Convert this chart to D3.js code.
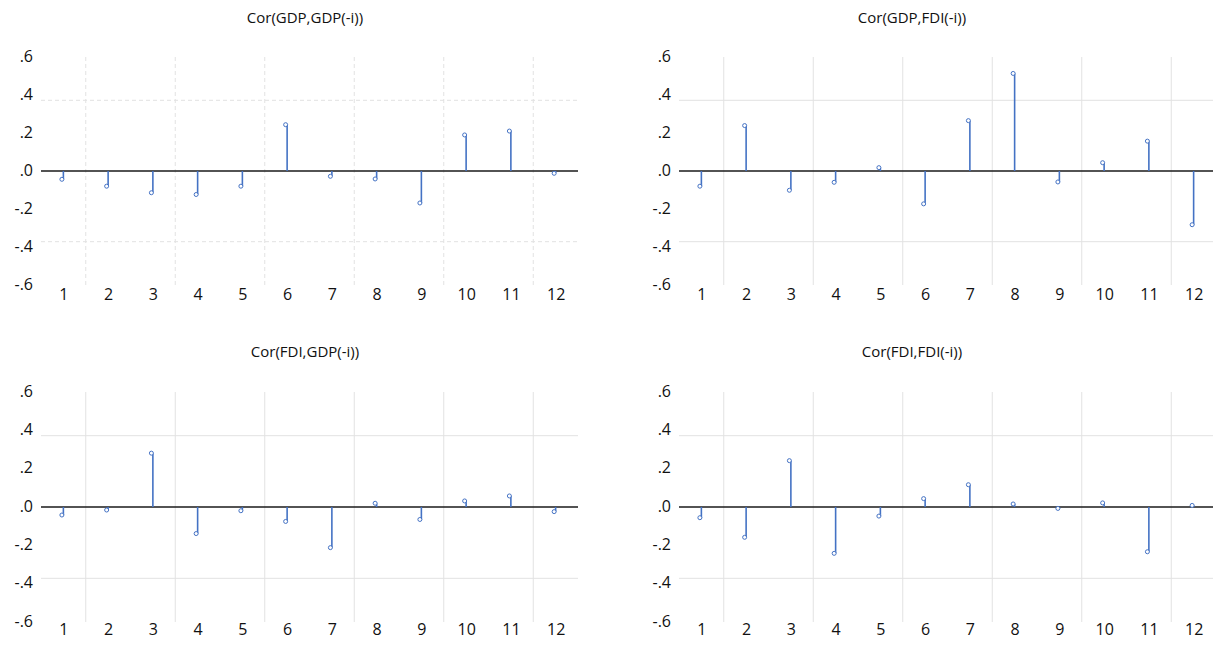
<!DOCTYPE html>
<html>
<head>
<meta charset="utf-8">
<script src="https://cdn.jsdelivr.net/npm/d3@7"></script>
<style>
  body { margin: 0; background: #fff; }
  text { font-family: "Open Sans", sans-serif; fill: #111; }
</style>
</head>
<body>
<div id="chart"></div>
<script>
// lags 1..12 and cross-correlations
var lags = [1, 2, 3, 4, 5, 6, 7, 8, 9, 10, 11, 12]
var yTicks = [0.6, 0.4, 0.2, 0.0, -0.2, -0.4, -0.6]
var gridY = [0.4, -0.4]
var gridX = [1.5, 3.5, 5.5, 7.5, 9.5, 11.5]
var titles = ["Cor(GDP,GDP(-i))", "Cor(GDP,FDI(-i))", "Cor(FDI,GDP(-i))", "Cor(FDI,FDI(-i))"]

var gdpGdp = [-0.047, -0.086, -0.123, -0.133, -0.086, 0.262, -0.030, -0.045, -0.181, 0.204, 0.226, -0.013]
var gdpFdi = [-0.086, 0.257, -0.109, -0.064, 0.019, -0.186, 0.285, 0.552, -0.062, 0.047, 0.169, -0.304]
var fdiGdp = [-0.045, -0.017, 0.302, -0.149, -0.021, -0.081, -0.228, 0.021, -0.070, 0.034, 0.062, -0.026]
var fdiFdi = [-0.060, -0.170, 0.260, -0.260, -0.051, 0.047, 0.125, 0.017, -0.008, 0.023, -0.251, 0.009]

var W = 1213, H = 650
var svg = d3.select("#chart").append("svg").attr("width", W).attr("height", H)

// panel frames
var panels = [
  {values: gdpGdp, title: titles[0], cx: 305, x0: 41, x1: 578, top: 57, bottom: 285, titleY: 18, labY: 300, dashed: true},
  {values: gdpFdi, title: titles[1], cx: 912, x0: 679, x1: 1216, top: 57, bottom: 285, titleY: 18, labY: 300, dashed: false},
  {values: fdiGdp, title: titles[2], cx: 305, x0: 41, x1: 578, top: 392, bottom: 622, titleY: 352, labY: 635, dashed: false},
  {values: fdiFdi, title: titles[3], cx: 912, x0: 679, x1: 1216, top: 392, bottom: 622, titleY: 352, labY: 635, dashed: false}
]

var blue = "#4472c4"

panels.forEach(function(p) {
  var g = svg.append("g")
  var x = d3.scaleLinear().domain([0.5, 12.5]).range([p.x0, p.x1])
  var y = d3.scaleLinear().domain([-0.645, 0.645]).range([p.bottom, p.top])
  // tick labels are spread over the whole frame height
  var yLab = d3.scaleLinear().domain([-0.6, 0.6]).range([p.bottom - 1, p.top - 1])

  g.selectAll(".gx").data(gridX).enter().append("line")
    .attr("x1", d => x(d)).attr("x2", d => x(d))
    .attr("y1", p.top).attr("y2", p.bottom)
    .attr("stroke", "#e2e2e2").attr("stroke-width", 1)
    .attr("stroke-dasharray", p.dashed ? "4,3" : null)

  g.selectAll(".gy").data(gridY).enter().append("line")
    .attr("x1", p.x0).attr("x2", p.x1)
    .attr("y1", d => y(d)).attr("y2", d => y(d))
    .attr("stroke", "#e2e2e2").attr("stroke-width", 1)
    .attr("stroke-dasharray", p.dashed ? "4,3" : null)

  var yAxis = d3.axisLeft(yLab).tickValues(yTicks).tickSize(0).tickPadding(8)
    .tickFormat(d => d3.format(".1f")(d).replace("0.", ".").replace("−", "-"))
  g.append("g").attr("transform", "translate(" + p.x0 + ",0)").call(yAxis)
    .call(a => a.select(".domain").remove())
    .selectAll("text").style("font-size", "16px").style("font-family", "Open Sans").attr("fill", "#111")

  var xAxis = d3.axisBottom(x).tickValues(lags).tickSize(0).tickPadding(0).tickFormat(d3.format("d"))
  g.append("g").attr("transform", "translate(0," + (p.labY - 11) + ")").call(xAxis)
    .call(a => a.select(".domain").remove())
    .selectAll("text").style("font-size", "16px").style("font-family", "Open Sans").attr("fill", "#111")

  g.append("line").attr("x1", p.x0).attr("x2", p.x1)
    .attr("y1", y(0)).attr("y2", y(0))
    .attr("stroke", "#1a1a1a").attr("stroke-width", 1.4)

  g.selectAll(".stem").data(p.values).enter().append("line")
    .attr("x1", (d, i) => x(lags[i])).attr("x2", (d, i) => x(lags[i]))
    .attr("y1", y(0)).attr("y2", d => y(d))
    .attr("stroke", blue).attr("stroke-width", 1.6)

  g.selectAll(".dot").data(p.values).enter().append("circle")
    .attr("cx", (d, i) => x(lags[i]) - 1.5).attr("cy", d => y(d))
    .attr("r", 2).attr("fill", "#fff").attr("stroke", blue).attr("stroke-width", 1)

  g.append("text").attr("x", p.cx).attr("y", p.titleY).attr("dy", "0.35em")
    .attr("text-anchor", "middle").style("font-size", "15px").text(p.title)
})
</script>
</body>
</html>
